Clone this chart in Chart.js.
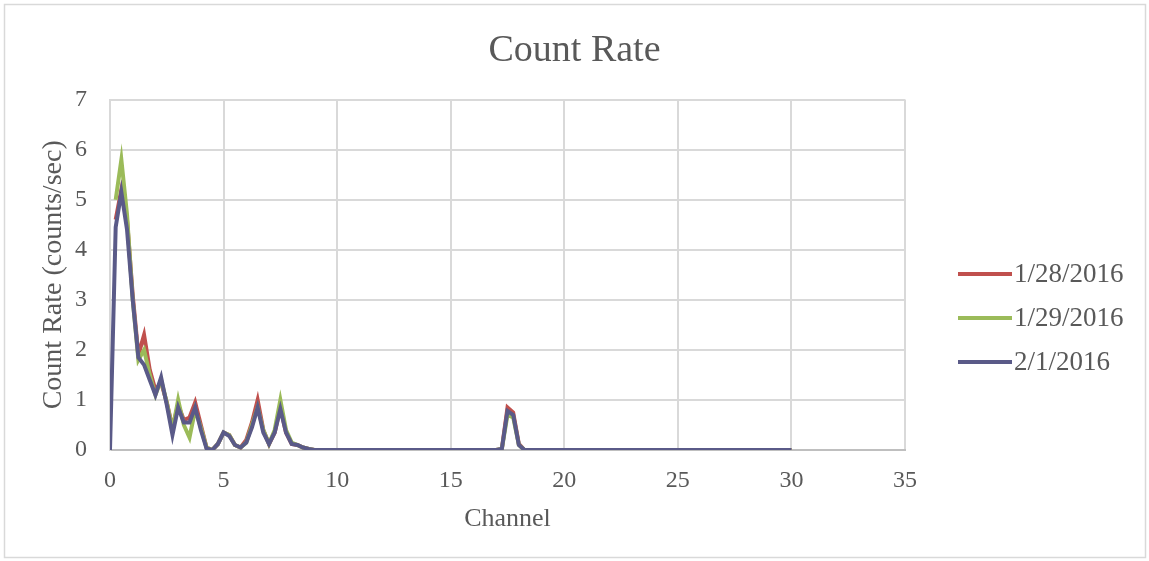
<!DOCTYPE html>
<html>
<head>
<meta charset="utf-8">
<script src="https://cdn.jsdelivr.net/npm/chart.js@4.4.1/dist/chart.umd.min.js"></script>
<style>
  html, body { margin: 0; padding: 0; background: #fff; }
  #wrap { position: relative; width: 1149px; height: 561px; }
</style>
</head>
<body>
<div id="wrap"><canvas id="countChart" width="1149" height="561"></canvas></div>
<script>
/* Count rate per channel, three measurement days */

const CHANNEL = [0, 0.25, 0.5, 0.75, 1, 1.25, 1.5, 1.75, 2, 2.25, 2.5, 2.75, 3, 3.25, 3.5, 3.75,
  4, 4.25, 4.5, 4.75, 5, 5.25, 5.5, 5.75, 6, 6.25, 6.5, 6.75, 7, 7.25, 7.5, 7.75,
  8, 8.25, 8.5, 8.75, 9, 17, 17.25, 17.5, 17.75, 18, 18.25, 30];

const RATE_0128 = [null, 4.6, 5.2, 4.6, 3.1, 1.9, 2.3, 1.6, 1.2, 1.35, 0.95, 0.45, 0.9, 0.6, 0.65, 0.95,
  0.5, 0.05, 0, 0.12, 0.35, 0.3, 0.1, 0.05, 0.2, 0.55, 1.0, 0.4, 0.12, 0.35, 0.85, 0.35,
  0.12, 0.1, 0.05, 0.02, 0, 0, 0.02, 0.85, 0.75, 0.12, 0, 0];

const RATE_0129 = [null, 5.0, 5.8, 4.7, 3.0, 1.8, 2.0, 1.5, 1.1, 1.4, 0.95, 0.4, 1.0, 0.5, 0.25, 0.8,
  0.45, 0.05, 0, 0.12, 0.35, 0.3, 0.1, 0.05, 0.15, 0.5, 0.85, 0.4, 0.12, 0.4, 1.0, 0.4,
  0.15, 0.1, 0.05, 0.02, 0, 0, 0.02, 0.7, 0.65, 0.1, 0, 0];

const RATE_0201 = [0, 4.45, 5.15, 4.4, 3.0, 1.85, 1.7, 1.4, 1.1, 1.45, 0.9, 0.3, 0.85, 0.55, 0.55, 0.85,
  0.4, 0.03, 0, 0.12, 0.35, 0.28, 0.1, 0.05, 0.15, 0.45, 0.85, 0.35, 0.12, 0.35, 0.82, 0.35,
  0.12, 0.1, 0.05, 0.02, 0, 0, 0.02, 0.78, 0.7, 0.1, 0, 0];

const SERIES_LABELS = ["1/28/2016", "1/29/2016", "2/1/2016"];
const X_TICKS = [0, 5, 10, 15, 20, 25, 30, 35];
const Y_TICKS = [0, 1, 2, 3, 4, 5, 6, 7];

const FONT = "'Liberation Serif', 'Times New Roman', serif";
const TEXT = "#595959";
const GRID = "#d9d9d9";

function points(values) {
  return CHANNEL.map((x, i) => ({ x, y: values[i] }));
}

// outer frame + legend on the right, drawn by hand to sit where Excel puts it
const frameAndLegend = {
  id: "frameAndLegend",
  beforeDraw(chart) {
    const ctx = chart.ctx;
    ctx.save();
    ctx.fillStyle = "#fff";
    ctx.fillRect(0, 0, chart.width, chart.height);
    ctx.strokeStyle = GRID;
    ctx.lineWidth = 1.5;
    ctx.strokeRect(4.5, 4.5, chart.width - 8, chart.height - 8);
    ctx.restore();
  },
  afterDraw(chart) {
    const ctx = chart.ctx;
    const rows = [274, 318, 362];
    ctx.save();
    ctx.font = "27px " + FONT;
    ctx.textBaseline = "middle";
    ctx.fillStyle = TEXT;
    chart.data.datasets.forEach((ds, i) => {
      const y = rows[i];
      ctx.strokeStyle = ds.borderColor;
      ctx.lineWidth = 4;
      ctx.beginPath();
      ctx.moveTo(958, y);
      ctx.lineTo(1012, y);
      ctx.stroke();
      ctx.fillText(ds.label, 1014, y + 1);
    });
    ctx.restore();
  },
};

const lineStyle = { borderWidth: 4, pointRadius: 0, tension: 0, fill: false, spanGaps: false };

new Chart(document.getElementById("countChart"), {
  type: "line",
  data: {
    datasets: [
      { label: SERIES_LABELS[0], data: points(RATE_0128), borderColor: "#c0504d", order: 2, ...lineStyle },
      { label: SERIES_LABELS[1], data: points(RATE_0129), borderColor: "#9bbb59", order: 1, ...lineStyle },
      { label: SERIES_LABELS[2], data: points(RATE_0201), borderColor: "#5a5a88", order: 0, ...lineStyle },
    ],
  },
  options: {
    responsive: false,
    animation: false,
    devicePixelRatio: 1,
    layout: { padding: 0 },
    scales: {
      x: {
        type: "linear",
        min: 0,
        max: 35,
        afterFit: (s) => { s.height = 111; },
        afterBuildTicks: (s) => { s.ticks = X_TICKS.map((v) => ({ value: v })); },
        ticks: { color: TEXT, font: { family: FONT, size: 24 }, padding: 16 },
        grid: { color: GRID, lineWidth: 2, drawTicks: false },
        border: { color: "#bfbfbf", width: 2 },
        title: {
          display: true,
          text: "Channel",
          color: TEXT,
          font: { family: FONT, size: 26 },
          padding: { top: 0, bottom: 26 },
        },
      },
      y: {
        min: 0,
        max: 7,
        afterFit: (s) => { s.width = 110; },
        afterBuildTicks: (s) => { s.ticks = Y_TICKS.map((v) => ({ value: v })); },
        ticks: { color: TEXT, font: { family: FONT, size: 24 }, padding: 23 },
        grid: { color: GRID, lineWidth: 2, drawTicks: false },
        border: { color: GRID, width: 2 },
        title: {
          display: true,
          text: "Count Rate (counts/sec)",
          color: TEXT,
          font: { family: FONT, size: 28 },
          padding: { top: 37, bottom: 0 },
        },
      },
      // empty axis that only reserves the room the legend sits in
      legendRoom: {
        position: "right",
        display: true,
        afterFit: (s) => { s.width = 244; },
        ticks: { display: false },
        grid: { display: false, drawTicks: false },
        border: { display: false },
      },
    },
    plugins: {
      legend: { display: false },
      tooltip: { enabled: false },
      title: {
        display: true,
        text: "Count Rate",
        color: TEXT,
        font: { family: FONT, size: 38, weight: "normal" },
        padding: { top: 28, bottom: 26 },
      },
    },
  },
  plugins: [frameAndLegend],
});
</script>
</body>
</html>
